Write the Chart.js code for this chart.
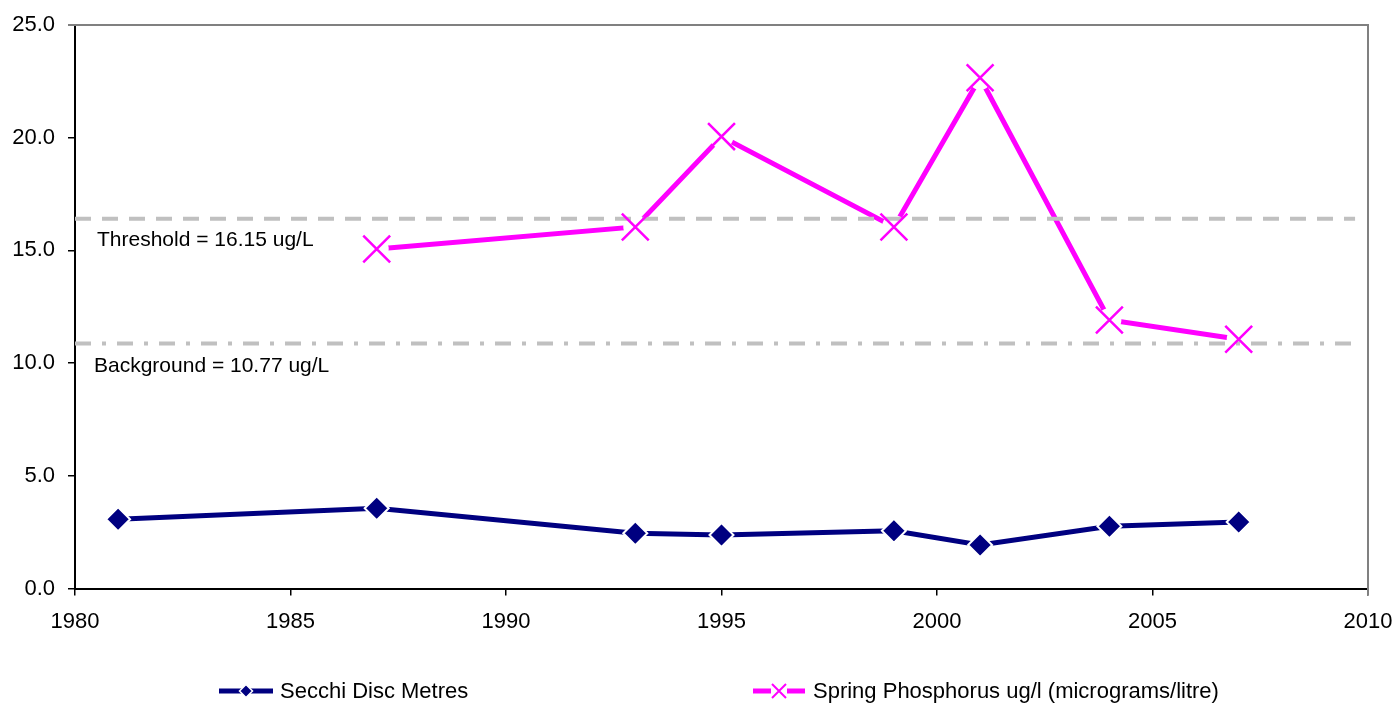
<!DOCTYPE html>
<html>
<head>
<meta charset="utf-8">
<script src="https://cdn.jsdelivr.net/npm/chart.js@4.4.1/dist/chart.umd.min.js"></script>
<style>
html,body{margin:0;padding:0;background:#fff;}
#wrap{width:1396px;height:704px;position:relative;}
</style>
</head>
<body>
<div id="wrap"><canvas id="c" width="1396" height="704"></canvas></div>
<script>
// ---- data ----
const secchiYears = [1981, 1987, 1993, 1995, 1999, 2001, 2004, 2007];
const secchiValues = [3.07, 3.56, 2.45, 2.37, 2.56, 1.93, 2.76, 2.95];
const phosYears = [1987, 1993, 1995, 1999, 2001, 2004, 2007];
const phosValues = [15.06, 16.04, 20.05, 16.04, 22.66, 11.91, 11.06];
const thresholdValue = 16.4;
const backgroundValue = 10.87;
const refLineStart = 1980;
const refLineEnd = [2009.7, 2009.8];
const thresholdLabel = 'Threshold = 16.15 ug/L';
const backgroundLabel = 'Background = 10.77 ug/L';
const seriesNames = ['Secchi Disc Metres', 'Spring Phosphorus ug/l (micrograms/litre)'];
const xMin = 1980, xMax = 2010, xStep = 5;
const yMin = 0, yMax = 25, yStep = 5;

const NAVY = '#000080', MAG = '#FF00FF', GRAY = '#C0C0C0';
const FONT = '"Liberation Sans", Arial, sans-serif';

const toPts = (xs, ys) => xs.map((x, i) => ({x: x, y: ys[i]}));

const decor = {
  id: 'decor',
  afterDraw(chart) {
    const ctx = chart.ctx, a = chart.chartArea;
    const ys = chart.scales.y;
    ctx.save();
    // plot border top / right
    ctx.strokeStyle = '#808080';
    ctx.lineWidth = 2;
    ctx.beginPath();
    ctx.moveTo(a.left - 7, a.top);
    ctx.lineTo(a.right, a.top);
    ctx.lineTo(a.right, a.bottom + 7);
    ctx.stroke();
    // annotations
    ctx.fillStyle = '#000';
    ctx.font = '21px ' + FONT;
    ctx.textBaseline = 'middle';
    ctx.textAlign = 'left';
    ctx.fillText(thresholdLabel, a.left + 22, ys.getPixelForValue(thresholdValue) + 21);
    ctx.fillText(backgroundLabel, a.left + 19, ys.getPixelForValue(backgroundValue) + 22.5);
    // legend
    const ly = 691;
    ctx.lineWidth = 5;
    ctx.strokeStyle = NAVY;
    ctx.beginPath(); ctx.moveTo(219, ly); ctx.lineTo(273, ly); ctx.stroke();
    ctx.fillStyle = NAVY;
    ctx.strokeStyle = '#fff';
    ctx.lineWidth = 1.5;
    ctx.beginPath();
    ctx.moveTo(246 - 6.5, ly); ctx.lineTo(246, ly - 6.5); ctx.lineTo(246 + 6.5, ly); ctx.lineTo(246, ly + 6.5); ctx.closePath();
    ctx.fill(); ctx.stroke();
    ctx.strokeStyle = MAG;
    ctx.lineWidth = 5;
    ctx.beginPath(); ctx.moveTo(753, ly); ctx.lineTo(805, ly); ctx.stroke();
    ctx.fillStyle = '#fff';
    ctx.fillRect(771, ly - 8, 16, 16);
    ctx.lineWidth = 2;
    ctx.beginPath();
    ctx.moveTo(772, ly - 7); ctx.lineTo(786, ly + 7);
    ctx.moveTo(786, ly - 7); ctx.lineTo(772, ly + 7);
    ctx.stroke();
    ctx.fillStyle = '#000';
    ctx.font = '22px ' + FONT;
    ctx.fillText(seriesNames[0], 280, ly + 1);
    ctx.fillText(seriesNames[1], 813, ly + 1);
    ctx.restore();
  }
};

new Chart(document.getElementById('c'), {
  type: 'line',
  data: {
    datasets: [
      { // phosphorus X markers (top)
        label: seriesNames[1] + ' markers',
        data: toPts(phosYears, phosValues),
        showLine: false,
        pointStyle: 'crossRot',
        pointRadius: 19,
        pointBorderWidth: 2.5,
        pointBorderColor: MAG,
        pointBackgroundColor: MAG,
        order: 0
      },
      { // background line
        label: 'Background',
        data: [{x: refLineStart, y: backgroundValue}, {x: refLineEnd[1], y: backgroundValue}],
        borderColor: GRAY,
        borderWidth: 4,
        borderDash: [16, 11, 4, 11],
        pointRadius: 0,
        order: 1
      },
      { // threshold line
        label: 'Threshold',
        data: [{x: refLineStart, y: thresholdValue}, {x: refLineEnd[0], y: thresholdValue}],
        borderColor: GRAY,
        borderWidth: 4,
        borderDash: [16, 11],
        pointRadius: 0,
        order: 2
      },
      { // white gaps around phosphorus markers
        label: 'gap',
        data: toPts(phosYears, phosValues),
        showLine: false,
        pointStyle: 'circle',
        pointRadius: 12,
        pointBorderWidth: 0,
        pointBackgroundColor: '#fff',
        pointBorderColor: '#fff',
        order: 3
      },
      {
        label: seriesNames[1],
        data: toPts(phosYears, phosValues),
        borderColor: MAG,
        borderWidth: 5,
        pointRadius: 0,
        tension: 0,
        order: 4
      },
      {
        label: seriesNames[0],
        data: toPts(secchiYears, secchiValues),
        borderColor: NAVY,
        borderWidth: 5,
        pointStyle: 'rectRot',
        pointRadius: 12,
        pointBorderWidth: 2,
        pointBorderColor: '#fff',
        pointBackgroundColor: NAVY,
        tension: 0,
        order: 5
      }
    ]
  },
  options: {
    responsive: false,
    animation: false,
    events: [],
    layout: { padding: { left: 0, top: 25, right: 28, bottom: 65.5 } },
    plugins: { legend: { display: false }, tooltip: { enabled: false } },
    scales: {
      x: {
        type: 'linear',
        min: xMin, max: xMax,
        afterFit: s => { s.height = 50; s.paddingLeft = 0; s.paddingRight = 0; },
        ticks: {
          stepSize: xStep,
          padding: 13,
          color: '#000',
          font: { family: FONT, size: 22 },
          callback: v => String(v)
        },
        grid: { drawOnChartArea: false, drawTicks: true, tickLength: 7, color: '#000', lineWidth: 1.5 },
        border: { color: '#000', width: 2 }
      },
      y: {
        min: yMin, max: yMax,
        afterFit: s => { s.width = 75; s.paddingTop = 0; s.paddingBottom = 0; },
        ticks: {
          stepSize: yStep,
          padding: 13,
          color: '#000',
          font: { family: FONT, size: 22 },
          callback: v => Number(v).toFixed(1)
        },
        grid: { drawOnChartArea: false, drawTicks: true, tickLength: 7, color: '#000', lineWidth: 1.5 },
        border: { color: '#000', width: 2 }
      }
    }
  },
  plugins: [decor]
});
</script>
</body>
</html>
